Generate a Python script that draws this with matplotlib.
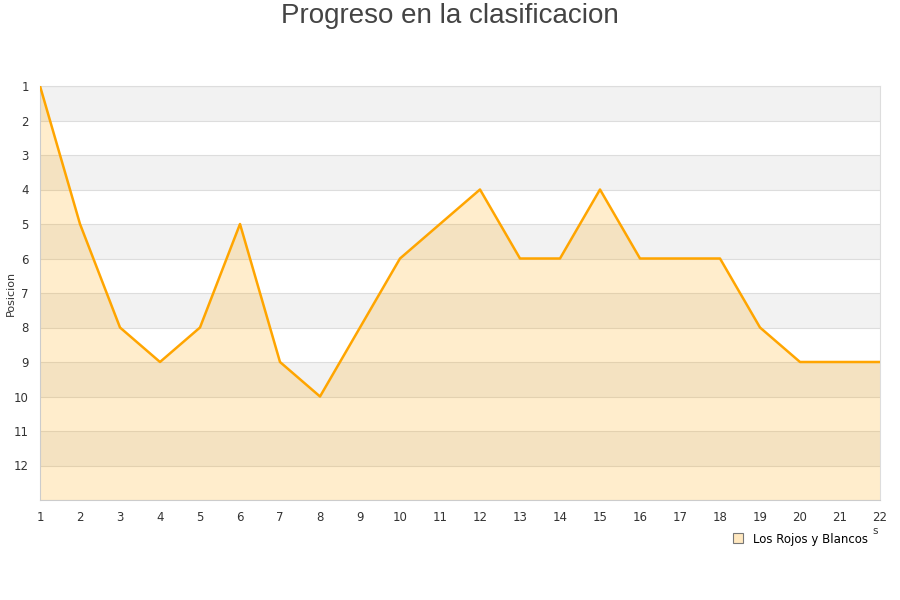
import numpy as np
import matplotlib.pyplot as plt
from matplotlib.lines import Line2D

jornadas = list(range(1, 23))
posiciones = [1, 5, 8, 9, 8, 5, 9, 10, 8, 6, 5, 4, 6, 6, 4, 6, 6, 6, 8, 9, 9, 9]
equipo = "Los Rojos y Blancos"
y_ticks = list(range(1, 13))

fig = plt.figure(figsize=(9, 6), dpi=100)
ax = fig.add_axes([40 / 900, 100 / 600, 840 / 900, 414 / 600])

# bandas alternas
for k in range(1, 13, 2):
    ax.axhspan(k, k + 1, color="#f2f2f2", lw=0, zorder=0)
for k in range(1, 14):
    ax.axhline(k, color="#dddddd", lw=0.8, zorder=1)

ax.fill_between(jornadas, posiciones, 13, color="#ffa500", alpha=0.2, lw=0, zorder=2)
ax.plot(jornadas, posiciones, color="#ffa500", lw=1.8, zorder=3)

ax.set_xlim(1, 22)
ax.set_ylim(13, 1)
ax.set_xticks(jornadas)
ax.set_yticks(y_ticks)
ax.tick_params(length=0, labelsize=8.5, colors="#333333", pad=8)
for s in ax.spines.values():
    s.set_color("#dddddd")
ax.spines["left"].set_color("#cccccc")
ax.spines["bottom"].set_color("#cccccc")

fig.text(11 / 900, 1 - 293 / 600, "Posicion", rotation=90, ha="center", va="center",
         fontsize=8, color="#333333")
fig.text(0.5, 1 - 16 / 600, "Progreso en la clasificacion", ha="center", va="center",
         fontsize=20, color="#444444", family="Liberation Sans")
fig.text(875 / 900, 1 - 531 / 600, "s", ha="center", va="center", fontsize=7.5, color="#333333")

handle = Line2D([], [], marker="s", ls="none", markersize=7,
                markerfacecolor="#ffe8c0", markeredgecolor="#777777", markeredgewidth=0.8)
fig.legend([handle], [equipo], loc="center", bbox_to_anchor=(797 / 900, 1 - 539 / 600),
           frameon=False, fontsize=8.5, handletextpad=0.3)

fig.savefig("out.png", dpi=100)
